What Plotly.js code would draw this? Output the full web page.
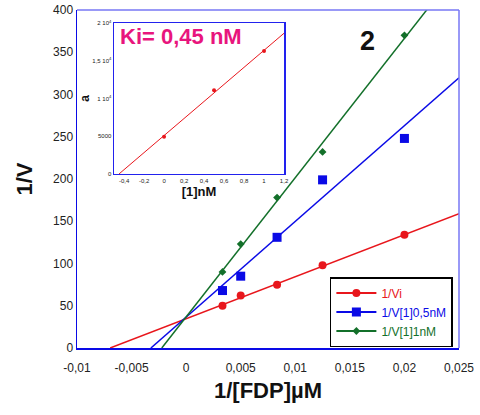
<!DOCTYPE html>
<html><head><meta charset="utf-8">
<script src="https://cdn.plot.ly/plotly-3.0.1.min.js"></script>
<style>body{margin:0;background:#fff}#chart{width:480px;height:415px}</style>
</head><body><div id="chart"></div>
<script>
// Main data: 1/[FDP] (µM^-1) vs 1/V
const invS = [0.00333, 0.005, 0.00833, 0.0125, 0.02];
const invV_0 = [50, 62, 75, 98, 134];      // 1/Vi
const invV_05 = [68, 85, 131, 199, 248];   // 1/V[1]0,5nM
const invV_1 = [90, 123, 178, 232, 370];   // 1/V[1]1nM
const seriesNames = ['1/Vi', '1/V[1]0,5nM', '1/V[1]1nM'];
// fitted lines: [slope, intercept]
const fitSlopes = [4970, 11330, 16480];
const fitIntercepts = [34.6, 36.6, 36.8];
const fitXMax = 0.025;

// Inset data: [1] nM vs slope a
const insetConc = [0, 0.5, 1];
const insetA = [4940, 11100, 16300];
const insetSlope = 11300, insetIntercept = 5085;
const insetXRange = [-0.5, 1.2];
const insetYTicks = [0, 5000, 10000, 15000, 20000];
const insetYTickText = ['0', '5000', '1 10<sup>4</sup>', '1,5 10<sup>4</sup>', '2 10<sup>4</sup>'];
const insetXTicks = [-0.4, -0.2, 0, 0.2, 0.4, 0.6, 0.8, 1, 1.2];
const insetXTickText = ['-0,4', '-0,2', '0', '0,2', '0,4', '0,6', '0,8', '1', '1,2'];
const mainXTicks = [-0.01, -0.005, 0, 0.005, 0.01, 0.015, 0.02, 0.025];
const mainXTickText = ['-0,01', '-0,005', '0', '0,005', '0,01', '0,015', '0,02', '0,025'];

const colors = ['#e8161c', '#0a0ae6', '#13702a'];
const symbols = ['circle', 'square', 'diamond'];
const sizes = [8, 9, 6];
const ys = [invV_0, invV_05, invV_1];

const traces = [];
for (let i = 0; i < 3; i++) {
  const xs = [-fitIntercepts[i] / fitSlopes[i], fitXMax];
  traces.push({x: xs, y: xs.map(x => fitSlopes[i] * x + fitIntercepts[i]),
    mode: 'lines', line: {color: colors[i], width: 1.5}, showlegend: false, hoverinfo: 'skip'});
  traces.push({x: invS, y: ys[i], mode: 'markers',
    marker: {color: colors[i], symbol: symbols[i], size: sizes[i]}, showlegend: false});
}
for (let i = 0; i < 3; i++) {
  traces.push({x: [null], y: [null], mode: 'lines+markers',
    name: '<span style="color:' + colors[i] + '">' + seriesNames[i] + '</span>',
    line: {color: colors[i], width: 2},
    marker: {color: colors[i], symbol: symbols[i], size: sizes[i]}});
}
// inset
const ix = [-insetIntercept / insetSlope, insetXRange[1]];
traces.push({x: ix, y: ix.map(x => insetSlope * x + insetIntercept),
  mode: 'lines', line: {color: '#e8161c', width: 1}, xaxis: 'x2', yaxis: 'y2', showlegend: false});
traces.push({x: insetConc, y: insetA, mode: 'markers', marker: {color: '#e8161c', size: 4},
  xaxis: 'x2', yaxis: 'y2', showlegend: false});

const F = 'Liberation Sans, Arial, sans-serif';
const layout = {
  width: 480, height: 415,
  margin: {l: 77, r: 21, t: 10, b: 67},
  paper_bgcolor: '#fff', plot_bgcolor: '#fff',
  font: {family: F, color: '#222', size: 12},
  xaxis: {range: [-0.01, 0.025], tickvals: mainXTicks, ticktext: mainXTickText,
    showgrid: false, zeroline: false, showline: true, linecolor: '#0a0ae6', linewidth: 1.5,
    ticks: '', ticklabelstandoff: 8, tickfont: {size: 12, family: F},
    title: {text: '<b>1/[FDP]µM</b>', font: {size: 22, family: F, color: '#111'}, standoff: 8}},
  yaxis: {range: [0, 400], dtick: 50, showgrid: false, zeroline: false, showline: true,
    linecolor: '#0a0ae6', linewidth: 1.5, ticks: '', tickfont: {size: 12, family: F},
    title: {text: '<b>1/V</b>', font: {size: 22, family: F, color: '#111'}, standoff: 14}},
  xaxis2: {domain: [0.097, 0.542], anchor: 'y2', range: insetXRange, tickvals: insetXTicks,
    ticktext: insetXTickText, showgrid: false, zeroline: false, showline: true, mirror: true,
    linecolor: '#2222ee', linewidth: 1.5, ticks: '', tickfont: {size: 6, family: F},
    title: {text: '<b>[1]nM</b>', font: {size: 13, family: F, color: '#111'}, standoff: 0}},
  yaxis2: {domain: [0.515, 0.9615], anchor: 'x2', range: [0, 20000], tickvals: insetYTicks,
    ticktext: insetYTickText, showgrid: false, zeroline: false, showline: true, mirror: true,
    linecolor: '#2222ee', linewidth: 1.5, ticks: '', tickfont: {size: 6, family: F},
    title: {text: '<b>a</b>', font: {size: 12, family: F, color: '#111'}, standoff: 0}},
  shapes: [
    {type: 'line', xref: 'paper', yref: 'paper', x0: 0, x1: 1, y0: 1, y1: 1, line: {color: '#7777f5', width: 1.5}},
    {type: 'line', xref: 'paper', yref: 'paper', x0: 1, x1: 1, y0: 0, y1: 1, line: {color: '#7777f5', width: 1.5}},
    {type: 'rect', xref: 'paper', yref: 'paper', x0: 0.097, x1: 0.542, y0: 0.515, y1: 0.9615,
      fillcolor: '#fff', line: {width: 0}, layer: 'below'}
  ],
  annotations: [
    {xref: 'paper', yref: 'paper', x: 0.108, y: 0.965, xanchor: 'left', yanchor: 'top', showarrow: false,
      text: '<b>Ki= 0,45 nM</b>', font: {size: 22, family: F, color: '#e8157d'}},
    {xref: 'paper', yref: 'paper', x: 0.76, y: 0.958, xanchor: 'center', yanchor: 'top', showarrow: false,
      text: '<b>2</b>', font: {size: 27, family: F, color: '#111'}}
  ],
  legend: {x: 0.662, y: 0.21, xanchor: 'left', yanchor: 'top', bgcolor: '#fff',
    bordercolor: '#000', borderwidth: 1.5, font: {size: 12, family: F},
    tracegroupgap: 0, itemwidth: 40}
};
Plotly.newPlot('chart', traces, layout, {displayModeBar: false, staticPlot: true});
</script></body></html>
